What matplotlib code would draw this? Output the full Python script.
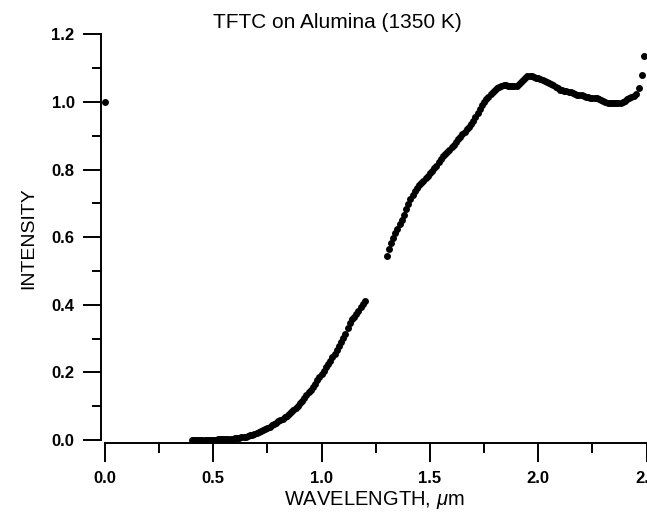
import matplotlib
matplotlib.use("Agg")
import matplotlib.pyplot as plt
import numpy as np
from matplotlib.ticker import MultipleLocator

plt.rcParams["font.family"] = ["Liberation Sans", "DejaVu Sans"]
plt.rcParams["mathtext.fontset"] = "custom"
plt.rcParams["mathtext.it"] = "Liberation Sans:italic"

# lone point at the y axis
x0 = [0.0]
y0 = [1.0]

# first stretch, 0.40 - 1.20 um in 0.01 steps
x1 = np.round(np.arange(0.40, 1.2001, 0.01), 2)
y1 = [0.000, 0.000, 0.000, 0.000, 0.000, 0.000, 0.001, 0.001, 0.001, 0.001,
      0.001, 0.001, 0.002, 0.002, 0.002, 0.002, 0.003, 0.003, 0.004, 0.004,
      0.005, 0.006, 0.007, 0.008, 0.009, 0.010, 0.012, 0.014, 0.016, 0.018,
      0.021, 0.024, 0.027, 0.030, 0.033, 0.036, 0.039, 0.043, 0.047, 0.051,
      0.055, 0.059, 0.063, 0.067, 0.071, 0.076, 0.082, 0.088, 0.094, 0.100,
      0.108, 0.116, 0.124, 0.132, 0.141, 0.149, 0.157, 0.166, 0.176, 0.186,
      0.196, 0.205, 0.215, 0.225, 0.235, 0.245, 0.255, 0.266, 0.278, 0.290,
      0.302, 0.315, 0.330, 0.345, 0.358, 0.365, 0.372, 0.382, 0.392, 0.401,
      0.410]

# second stretch, 1.30 - 2.45 um
x2 = np.round(np.arange(1.30, 2.4501, 0.01), 2)
y2 = [0.545, 0.565, 0.582, 0.598, 0.612, 0.625, 0.638, 0.651, 0.666, 0.682,
      0.698, 0.712, 0.725, 0.736, 0.745, 0.753, 0.760, 0.766, 0.774, 0.782,
      0.790, 0.797, 0.804, 0.812, 0.822, 0.832, 0.841, 0.847, 0.852, 0.859,
      0.866, 0.874, 0.882, 0.890, 0.897, 0.905, 0.912, 0.920, 0.927, 0.935,
      0.943, 0.954, 0.966, 0.978, 0.990, 0.999, 1.008, 1.016, 1.023, 1.029,
      1.035, 1.040, 1.045, 1.048, 1.050, 1.049, 1.048, 1.047, 1.046, 1.046,
      1.048, 1.052, 1.058, 1.066, 1.072, 1.076, 1.077, 1.076, 1.074, 1.072,
      1.070, 1.067, 1.064, 1.061, 1.058, 1.055, 1.052, 1.049, 1.045, 1.040,
      1.036, 1.034, 1.032, 1.031, 1.030, 1.028, 1.026, 1.024, 1.022, 1.021,
      1.020, 1.018, 1.016, 1.015, 1.013, 1.012, 1.012, 1.011, 1.009, 1.006,
      1.003, 1.000, 0.998, 0.997, 0.996, 0.996, 0.996, 0.997, 0.998, 1.000,
      1.004, 1.008, 1.012, 1.016, 1.018, 1.023]

# last few points shooting up at the edge
x3 = [2.467, 2.478, 2.488]
y3 = [1.040, 1.080, 1.136]

xticks = [0.0, 0.5, 1.0, 1.5, 2.0, 2.5]
yticks = [0.0, 0.2, 0.4, 0.6, 0.8, 1.0, 1.2]

fig = plt.figure(figsize=(6.47, 5.12), dpi=100)
ax = fig.add_axes([101 / 647, (512 - 442.7) / 512, 546 / 647, (442.7 - 34) / 512])

for xs, ys in [(x0, y0), (x1, y1), (x2, y2), (x3, y3)]:
    ax.plot(xs, ys, "o", color="black", ms=5.0, mew=0, clip_on=False)

ax.set_xlim(-0.0185, 2.502)
ax.set_ylim(-0.008, 1.201)

ax.spines["top"].set_visible(False)
ax.spines["right"].set_visible(False)
ax.spines["left"].set_bounds(0, 1.2)
ax.spines["bottom"].set_bounds(0, 2.5)
for s in ["left", "bottom"]:
    ax.spines[s].set_linewidth(1.4)

ax.set_xticks(xticks)
ax.set_yticks(yticks)
ax.set_xticklabels([f"{v:.1f}" for v in xticks])
ax.set_yticklabels([f"{v:.1f}" for v in yticks])
ax.xaxis.set_minor_locator(MultipleLocator(0.25))
ax.yaxis.set_minor_locator(MultipleLocator(0.1))

ax.tick_params(which="major", direction="out", width=1.4, labelsize=12, color="black")
ax.tick_params(axis="x", which="major", length=13.5, pad=7)
ax.tick_params(axis="x", which="minor", direction="out", length=7, width=1.4)
ax.tick_params(axis="y", which="major", length=13, pad=6)
ax.tick_params(axis="y", which="minor", direction="out", length=6.5, width=1.4)
for lab in ax.get_xticklabels() + ax.get_yticklabels():
    lab.set_fontweight("bold")

ax.set_xlabel(r"WAVELENGTH, $\mu$m", fontsize=14.5, labelpad=2)
ax.set_ylabel("INTENSITY", fontsize=14, labelpad=10)
fig.text(337.5 / 647, 1 - 23 / 512, "TFTC on Alumina (1350 K)", fontsize=15,
         ha="center", va="center")

fig.savefig("out.png", dpi=100)
